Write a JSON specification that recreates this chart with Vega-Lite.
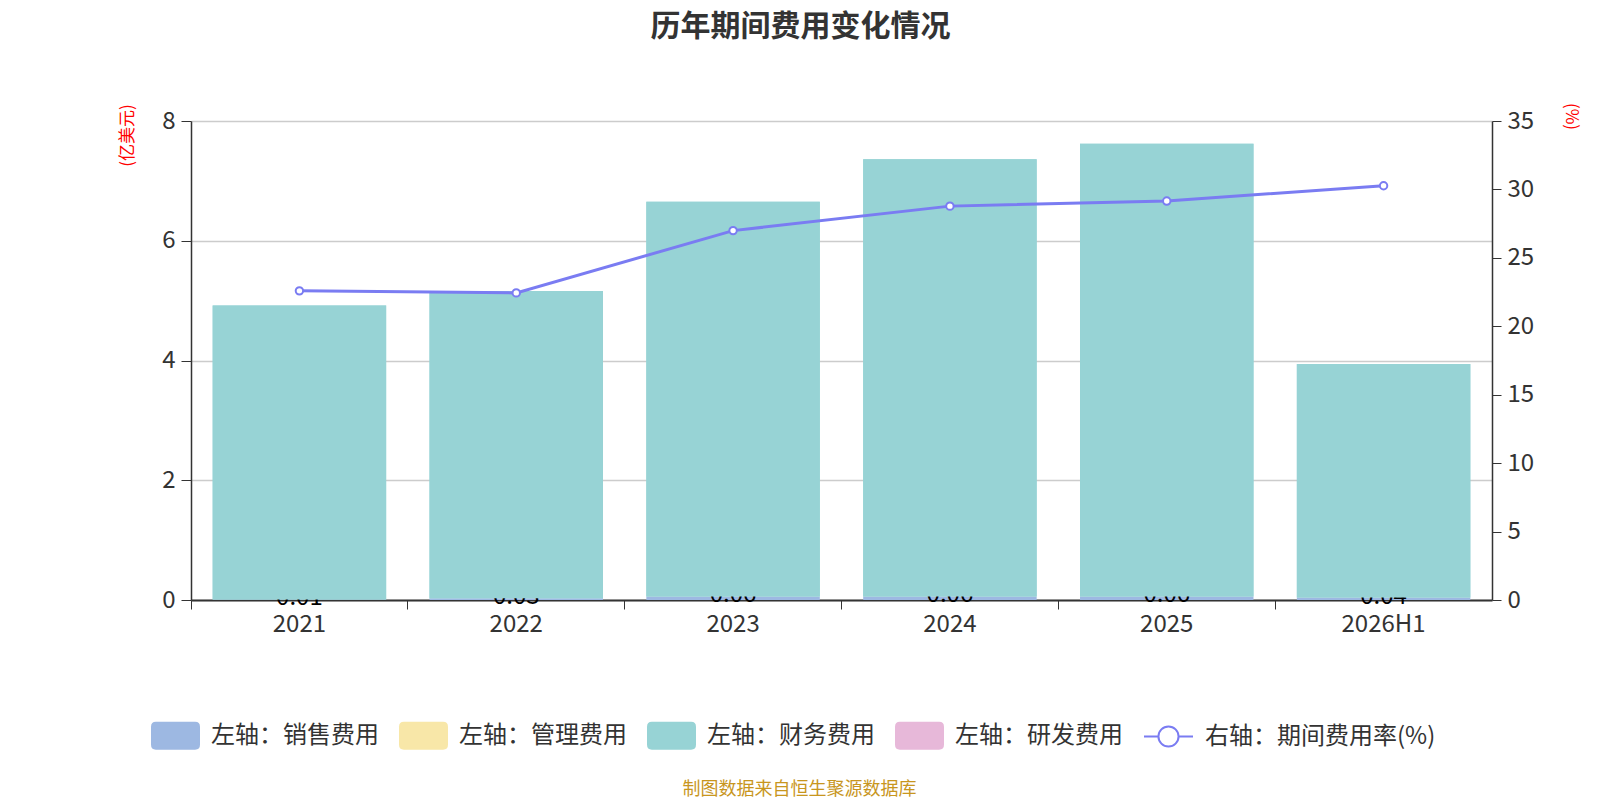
{
  "$schema": "https://vega.github.io/schema/vega-lite/v6.json",
  "width": 1301,
  "height": 479,
  "autosize": {"type": "none"},
  "padding": {"left": 191, "top": 121, "right": 108, "bottom": 200},
  "background": "white",
  "config": {
    "font": "Noto Sans CJK SC",
    "view": {"stroke": null},
    "axis": {"labelFont": "Noto Sans CJK SC", "titleFont": "Noto Sans CJK SC"}
  },
  "title": {
    "text": "历年期间费用变化情况",
    "fontSize": 30,
    "fontWeight": "bold",
    "color": "#333333",
    "anchor": "middle",
    "frame": "group",
    "dx": -41,
    "offset": 60
  },
  "data": {
    "values": [
      {"year": "2021", "销售费用": 0.01, "管理费用": 0, "财务费用": 4.91, "研发费用": 0, "rate": 22.59},
      {"year": "2022", "销售费用": 0.03, "管理费用": 0, "财务费用": 5.13, "研发费用": 0, "rate": 22.44},
      {"year": "2023", "销售费用": 0.06, "管理费用": 0, "财务费用": 6.59, "研发费用": 0, "rate": 26.99},
      {"year": "2024", "销售费用": 0.06, "管理费用": 0, "财务费用": 7.30, "研发费用": 0, "rate": 28.78},
      {"year": "2025", "销售费用": 0.06, "管理费用": 0, "财务费用": 7.56, "研发费用": 0, "rate": 29.15},
      {"year": "2026H1", "销售费用": 0.04, "管理费用": 0, "财务费用": 3.90, "研发费用": 0, "rate": 30.27}
    ]
  },
  "encoding": {
    "x": {
      "field": "year",
      "type": "ordinal",
      "sort": null,
      "scale": {"paddingInner": 0, "paddingOuter": 0},
      "axis": {
        "title": "制图数据来自恒生聚源数据库",
        "titleColor": "#c8961e",
        "titleFontSize": 18,
        "titleFontWeight": "normal",
        "titleX": 608,
        "titleY": 189,
        "titleAlign": "center",
        "titleBaseline": "middle",
        "labelAngle": 0,
        "labelFontSize": 24,
        "labelColor": "#333333",
        "labelPadding": 3,
        "tickSize": 9,
        "tickColor": "#333333",
        "bandPosition": 0,
        "domainColor": "#333333",
        "domainWidth": 2,
        "grid": false
      }
    }
  },
  "layer": [
    {
      "layer": [
        {
          "transform": [{"fold": ["销售费用", "管理费用", "财务费用", "研发费用"], "as": ["type", "value"]}],
          "mark": {"type": "bar", "width": {"band": 0.8}},
          "encoding": {
            "y": {
              "field": "value",
              "type": "quantitative",
              "stack": "zero",
              "title": "(亿美元)",
              "scale": {"domain": [0, 8]},
              "axis": {
                "values": [0, 2, 4, 6, 8],
                "format": "d",
                "titleColor": "red",
                "titleFontSize": 17,
                "titleFontWeight": "normal",
                "titleX": -64,
                "titleY": 14,
                "titleAlign": "center",
                "titleBaseline": "middle",
                "grid": true,
                "gridColor": "#cccccc",
                "gridWidth": 1.5,
                "domainColor": "#333333",
                "domainWidth": 1.5,
                "tickColor": "#333333",
                "tickSize": 10,
                "labelFontSize": 24,
                "labelColor": "#333333",
                "labelPadding": 6
              }
            },
            "color": {
              "field": "type",
              "type": "nominal",
              "scale": {
                "domain": ["销售费用", "管理费用", "财务费用", "研发费用"],
                "range": ["#9db8e2", "#f8e7a8", "#97d3d5", "#e7b8d9"]
              },
              "legend": {
                "orient": "none",
                "legendX": -40,
                "legendY": 590,
                "direction": "horizontal",
                "title": null,
                "symbolType": "M-0.8,-0.57L0.8,-0.57Q1,-0.57,1,-0.37L1,0.37Q1,0.57,0.8,0.57L-0.8,0.57Q-1,0.57,-1,0.37L-1,-0.37Q-1,-0.57,-0.8,-0.57Z",
                "symbolSize": 2401,
                "symbolStrokeWidth": 0,
                "symbolOpacity": 1,
                "labelFontSize": 24,
                "labelColor": "#333333",
                "labelOffset": 11,
                "labelLimit": 300,
                "columnPadding": 20,
                "labelExpr": "'左轴：' + datum.label"
              }
            },
            "order": {"field": "type", "sort": "descending"}
          }
        },
        {
          "mark": {"type": "text", "fontSize": 24, "color": "#000000", "baseline": "middle", "dy": -1},
          "encoding": {
            "y": {"field": "销售费用", "type": "quantitative", "title": "(亿美元)"},
            "text": {"field": "销售费用", "type": "quantitative", "format": ".2f"}
          }
        },
        {
          "transform": [{"fold": ["销售费用", "管理费用", "财务费用", "研发费用"], "as": ["type", "value"]}],
          "mark": {"type": "bar", "width": {"band": 0.8}},
          "encoding": {
            "y": {"field": "value", "type": "quantitative", "stack": "zero", "title": "(亿美元)"},
            "color": {"field": "type", "type": "nominal", "legend": null},
            "order": {"field": "type", "sort": "descending"},
            "opacity": {"condition": {"test": "datum.type === '财务费用'", "value": 1}, "value": 0}
          }
        }
      ]
    },
    {
      "layer": [
        {
          "mark": {"type": "line", "strokeWidth": 3},
          "encoding": {
            "y": {
              "field": "rate",
              "type": "quantitative",
              "title": "(%)",
              "scale": {"domain": [0, 35]},
              "axis": {
                "orient": "right",
                "values": [0, 5, 10, 15, 20, 25, 30, 35],
                "titleColor": "red",
                "titleFontSize": 17,
                "titleFontWeight": "normal",
                "titleAngle": 90,
                "titleX": 78,
                "titleY": -5,
                "titleAlign": "center",
                "titleBaseline": "middle",
                "grid": false,
                "domainColor": "#333333",
                "domainWidth": 1.5,
                "tickColor": "#333333",
                "tickSize": 9,
                "labelFontSize": 24,
                "labelColor": "#333333",
                "labelPadding": 6
              }
            },
            "stroke": {
              "datum": "右轴：期间费用率(%)",
              "scale": {"range": ["#7a7cf2"]},
              "legend": {
                "orient": "none",
                "legendX": 952,
                "legendY": 590,
                "title": null,
                "symbolType": "M-1,0L-0.41,0M0.41,0L1,0M0.41,0A0.41,0.41,0,1,1,-0.41,0A0.41,0.41,0,1,1,0.41,0Z",
                "symbolSize": 2401,
                "symbolStrokeWidth": 2,
                "symbolFillColor": "white",
                "labelFontSize": 24,
                "labelColor": "#333333",
                "labelOffset": 11,
                "labelLimit": 300
              }
            }
          }
        },
        {
          "mark": {"type": "point", "filled": true, "fill": "white", "stroke": "#7a7cf2", "strokeWidth": 2, "size": 55, "opacity": 1},
          "encoding": {
            "y": {"field": "rate", "type": "quantitative", "title": "(%)"}
          }
        }
      ]
    }
  ],
  "resolve": {"scale": {"y": "independent"}}
}
